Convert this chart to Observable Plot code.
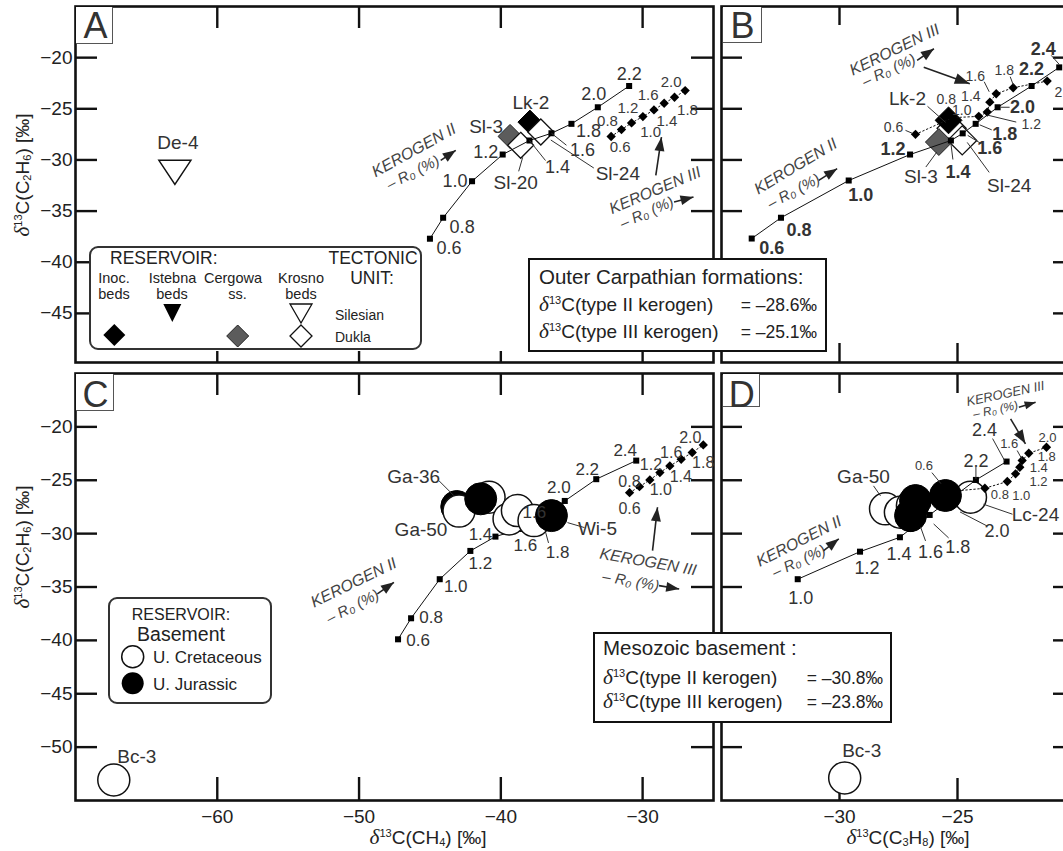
<!DOCTYPE html>
<html>
<head>
<meta charset="utf-8">
<script src="https://cdn.jsdelivr.net/npm/d3@7"></script>
<script src="https://cdn.jsdelivr.net/npm/@observablehq/plot@0.6"></script>
<style>
  html, body { margin:0; padding:0; background:#fff; }
  body { width:1063px; height:851px; overflow:hidden; }
  #wrap { position:relative; width:1063px; height:851px; overflow:hidden; font-family:"Liberation Sans", Arial, Helvetica, sans-serif; color:#222; }
  .abs { position:absolute; white-space:nowrap; line-height:1; }
  .sup { font-size:0.58em; position:relative; top:-0.62em; }
  .sub { font-size:0.58em; position:relative; top:0.22em; }
  .dl { font-family:"Liberation Serif","DejaVu Serif",serif; font-style:italic; font-size:1.12em; line-height:1; }
</style>
</head>
<body>
<div id="wrap"></div>
<script>
const FONT = '"Liberation Sans", Arial, Helvetica, sans-serif';

// ---------------- DATA ----------------
const xDomainCH4 = [-70, -25];
const xDomainC3H8 = [-35, -20];
const yDomainTop = [-49.8, -15];
const yDomainBottom = [-55, -15];
const xTicksCH4 = [-60, -50, -40, -30];
const xTicksC3H8 = [-30, -25];
const yTicksTop = [-20, -25, -30, -35, -40, -45];
const yTicksBottom = [-20, -25, -30, -35, -40, -45, -50];

// Panel A : d13C(CH4) vs d13C(C2H6), Outer Carpathian model curves
const roA2 = [0.6, 0.8, 1.0, 1.2, 1.4, 1.6, 1.8, 2.0, 2.2];
const ch4A2 = [-45.0, -44.07, -42.03, -39.87, -37.98, -36.43, -35.02, -33.16, -30.95];
const c2h6A2 = [-37.7, -35.65, -32.08, -29.47, -28.1, -27.39, -26.47, -24.85, -22.77];
const roA3 = [0.6, 0.8, 1.0, 1.2, 1.4, 1.6, 1.8, 2.0];
const ch4A3 = [-32.22, -31.49, -30.78, -29.98, -29.2, -28.48, -27.75, -27.0];
const c2h6A3 = [-27.71, -27.03, -26.38, -25.76, -25.11, -24.46, -23.87, -23.22];

// Panel B : d13C(C3H8) vs d13C(C2H6)
const roB2 = [0.6, 0.8, 1.0, 1.2, 1.4, 1.6, 1.8, 2.0, 2.2, 2.4];
const c3h8B2 = [-33.72, -32.48, -29.61, -27.01, -25.28, -24.78, -24.23, -23.3, -21.86, -20.69];
const c2h6B2 = [-37.68, -35.65, -32.01, -29.47, -28.1, -27.4, -26.47, -24.85, -22.77, -20.95];
const roB3 = [0.6, 0.8, 1.0, 1.2, 1.4, 1.6, 1.8, 2.0];
const c3h8B3 = [-26.78, -25.22, -24.1, -23.74, -23.63, -23.36, -22.64, -21.2];
const c2h6B3 = [-27.5, -25.87, -25.74, -25.32, -24.35, -23.53, -22.94, -22.29];

// Panel C : d13C(CH4) vs d13C(C2H6), Mesozoic basement model curves
const roC2 = [0.6, 0.8, 1.0, 1.2, 1.4, 1.6, 1.8, 2.0, 2.2, 2.4];
const ch4C2 = [-47.25, -46.33, -44.31, -42.15, -40.38, -38.62, -37.06, -35.49, -33.27, -30.45];
const c2h6C2 = [-39.9, -37.93, -34.27, -31.62, -30.28, -29.56, -28.25, -26.94, -24.9, -23.16];
const roC3 = [0.6, 0.8, 1.0, 1.2, 1.4, 1.6, 1.8, 2.0];
const ch4C3 = [-30.92, -30.22, -29.49, -28.78, -28.08, -27.28, -26.5, -25.72];
const c2h6C3 = [-26.16, -25.6, -24.97, -24.28, -23.66, -23.03, -22.4, -21.69];

// Panel D : d13C(C3H8) vs d13C(C2H6)
const roD2 = [1.0, 1.2, 1.4, 1.6, 1.8, 2.0, 2.2, 2.4];
const c3h8D2 = [-31.77, -29.13, -27.44, -26.99, -26.18, -25.4, -24.22, -22.92];
const c2h6D2 = [-34.27, -31.69, -30.34, -29.56, -28.25, -26.94, -24.97, -23.25];
const roD3 = [0.6, 0.8, 1.0, 1.2, 1.4, 1.6, 1.8, 2.0];
const c3h8D3 = [-25.83, -23.84, -22.89, -22.54, -22.36, -22.26, -21.98, -21.23];
const c2h6D3 = [-26.16, -25.75, -25.12, -24.4, -23.78, -23.15, -22.47, -21.91];

// Samples
const sampA_name = ["De-4", "Lk-2", "Sl-3", "Sl-24", "Sl-20"];
const sampA_type = ["krosnoS", "inoc", "cergowa", "krosnoD", "krosnoD"];
const sampA_ch4 = [-62.99, -37.95, -39.35, -37.18, -38.6];
const sampA_c2h6 = [-30.82, -26.3, -27.7, -27.27, -28.57];

const sampB_name = ["Sl-20", "Sl-24", "Lk-2", "Sl-3"];
const sampB_type = ["krosnoD", "krosnoD", "inoc", "cergowa"];
const sampB_c3h8 = [-25.25, -24.8, -25.38, -25.79];
const sampB_c2h6 = [-26.91, -28.09, -26.13, -28.25];

const sampC_name = ["Ga-36", "Ga-50", "", "", "", "", "", "Wi-5", "Bc-3"];
const sampC_type = ["jur", "cret", "cret", "jur", "cret", "cret", "cret", "jur", "cret"];
const sampC_ch4 = [-43.11, -42.95, -40.83, -41.42, -39.42, -38.83, -37.66, -36.43, -67.3];
const sampC_c2h6 = [-27.46, -27.89, -26.59, -26.74, -28.62, -27.84, -28.78, -28.31, -53.08];

const sampD_name = ["Ga-50", "", "", "Lc-24", "", "", "", "Bc-3"];
const sampD_type = ["cret", "cret", "cret", "cret", "jur", "jur", "jur", "cret"];
const sampD_c3h8 = [-28.05, -27.42, -26.91, -24.45, -26.78, -26.99, -25.51, -29.78];
const sampD_c2h6 = [-27.68, -28.0, -27.37, -26.59, -26.9, -28.31, -26.43, -52.89];

// ---------------- LAYOUT (label offsets in px, leaders [index, ax, ay, bx, by]) ----------------
const LAYOUT = {
  A: {f2: 18, f3: 15,
      lab2: [[19,10],[19,9],[-17,0],[-17,-2],[28,27],[31,17],[17,7],[-4,-13],[0,-12]],
      lead2: [[4,0,0,16,20],[5,0,0,15,12]],
      lab3: [[9,11],[-14,-8],[19,9],[-15,-8],[13,11],[-16,-8],[13,13],[-14,-8]],
      lead3: [],
      sampLab: [[0,3,-25],[1,1,-19],[2,-24,-10],[3,77,42],[4,-5,38]],
      sampLead: [[3,10,8,53,36],[4,2,12,-2,26]]},
  B: {f2: 18, w2: "bold", f3: 14,
      lab2: [[20,10],[18,12],[12,15],[-17,-5],[7,32],[27,15],[29,10],[25,0],[0,-17],[-16,-18]],
      lead2: [[4,0,3,2,19],[5,5,2,18,10],[6,4,1,16,6],[7,3,0,12,0],[9,-8,-12,0,-3]],
      lab3: [[-22,-7],[-6,-18],[-17,-6],[44,12],[-19,-6],[-21,-17],[-9,-17],[17,11]],
      lead3: [[0,-10,-4,-3,-1],[3,0,3,29,10],[5,-12,-12,-7,-2],[6,-3,-11,0,-3]],
      sampLab: [[1,47,45],[2,-41,-21],[3,-18,35]],
      sampLead: [[1,5,2,27,32],[2,-21,-14,-3,2],[3,-13,25,-2,10]]},
  C: {f2: 17, f3: 16,
      lab2: [[20,1],[20,-1],[16,7],[10,13],[-15,-2],[5,17],[15,38],[-6,-13],[-9,-10],[-11,-10]],
      extra: [[5, "1.6", 14, -16]],
      lead2: [[6,3,17,6,28]],
      lab3: [[0,16],[-10,-5],[11,10],[-9,-8],[11,11],[-10,-6],[11,10],[-13,-7]],
      lead3: [],
      sampLab: [[0,-43,-30],[1,-38,19],[7,46,13],[8,23,-23]],
      sampLead: [[0,-18,-26,-3,-11],[7,16,7,33,12]]},
  D: {f2: 18, f3: 13,
      lab2: [[3,19],[7,17],[-1,17],[20,23],[28,32],[49,30],[0,-19],[-22,-31]],
      lead2: [[3,10,-2,15,12],[4,4,9,19,23],[5,12,11,39,25],[6,0,-13,0,-1],[7,-14,-23,-2,-1]],
      lab3: [[-14,-27],[15,7],[14,14],[23,8],[19,1],[-13,-17],[18,4],[1,-9]],
      lead3: [[0,-6,-20,3,-9],[5,-5,-10,0,-1]],
      sampLab: [[0,-22,-32],[3,65,18],[7,17,-27]],
      sampLead: [[0,-12,-23,-5,-13],[3,13,7,42,17]]}
};

// Kerogen annotations (data units)
const NOTES = {
  A: [{t:"KEROGEN II", x:-46.13, y:-29.06, r:-29, s:16}, {t:"– R₀ (%)", x:-46.2, y:-31.24, r:-27, s:15},
      {t:"KEROGEN III", x:-29.12, y:-32.97, r:-23, s:16}, {t:"– R₀ (%)", x:-29.7, y:-35.15, r:-24, s:15}],
  B: [{t:"KEROGEN III", x:-27.67, y:-19.23, r:-26, s:16}, {t:"– R₀ (%)", x:-27.91, y:-21.25, r:-25, s:15},
      {t:"KEROGEN II", x:-31.86, y:-30.62, r:-31, s:16}, {t:"– R₀ (%)", x:-31.94, y:-33.07, r:-28, s:15}],
  C: [{t:"KEROGEN II", x:-50.38, y:-34.59, r:-26, s:16}, {t:"– R₀ (%)", x:-50.45, y:-36.84, r:-27, s:15},
      {t:"KEROGEN III", x:-29.61, y:-32.65, r:10, s:16}, {t:"– R₀ (%)", x:-30.83, y:-34.47, r:10, s:15}],
  D: [{t:"KEROGEN III", x:-22.97, y:-16.9, r:-12, s:13}, {t:"– R₀ (%)", x:-23.39, y:-18.4, r:-12, s:12},
      {t:"KEROGEN II", x:-31.72, y:-30.72, r:-27, s:16}, {t:"– R₀ (%)", x:-31.72, y:-32.59, r:-25, s:15}]
};
const ARROWS = {
  A: [[-44.24,-30.04,-43.18,-29.06,13,10], [-27.78,-34.11,-26.41,-33.62,13,10], [-29.07,-31.5,-28.67,-27.76,14,10]],
  B: [[-26.71,-20.27,-26.0,-19.13,13,10], [-26.43,-20.93,-24.48,-22.55,15,11], [-30.88,-31.99,-30.1,-30.85,13,10]],
  C: [[-48.71,-35.65,-47.54,-34.56,13,10], [-28.84,-34.87,-27.42,-35.18,13,10], [-29.3,-31.59,-28.95,-27.53,14,10]],
  D: [[-22.4,-18.16,-21.69,-17.69,11,8], [-22.75,-19.25,-22.12,-21.59,14,10], [-30.67,-31.59,-30.03,-30.49,13,10]]
};

// ---------------- HELPERS ----------------
const rows = (ro, xs, ys) => ro.map((r, i) => ({ro: r, x: xs[i], y: ys[i]}));
const samples = (n, t, xs, ys) => n.map((name, i) => ({name, type: t[i], x: xs[i], y: ys[i]}));
const triDown = {draw(ctx, size) { const r = Math.sqrt(size / Math.PI); ctx.moveTo(-r, -0.5*r); ctx.lineTo(r, -0.5*r); ctx.lineTo(0, r); ctx.closePath(); }};
function headSymbol(ang, L, W) {
  const c = Math.cos(ang), s = Math.sin(ang);
  const pts = [[0,0],[-L,-W/2],[-L,W/2]].map(([a,b]) => [a*c - b*s, a*s + b*c]);
  return {draw(ctx) { ctx.moveTo(pts[0][0], pts[0][1]); ctx.lineTo(pts[1][0], pts[1][1]); ctx.lineTo(pts[2][0], pts[2][1]); ctx.closePath(); }};
}
const SAMPLE_STYLE = {
  inoc:    {symbol: "diamond2", r: 10.8, fill: "#000", stroke: "#000", strokeWidth: 1},
  cergowa: {symbol: "diamond2", r: 10.8, fill: "#5c5c5c", stroke: "#222", strokeWidth: 1},
  krosnoD: {symbol: "diamond2", r: 11.7, fill: "#fff", stroke: "#111", strokeWidth: 1.3},
  krosnoS: {symbol: triDown, r: 16, fill: "#fff", stroke: "#111", strokeWidth: 1.5},
  cret:    {symbol: "circle", r: 16, fill: "#fff", stroke: "#111", strokeWidth: 1.5},
  jur:     {symbol: "circle", r: 16, fill: "#000", stroke: "#000", strokeWidth: 1}
};

const wrap = document.getElementById("wrap");

function buildPanel(p) {
  const iw = p.W - p.ml - p.mr, ih = p.H - p.mt - p.mb;
  const kx = iw / (p.xd[1] - p.xd[0]);
  const ky = ih / (p.yd[1] - p.yd[0]);
  const at = (d, o) => ({x: d.x + o[0] / kx, y: d.y - o[1] / ky});
  const lay = p.lay;
  const marks = [];
  const ts = {stroke: "#111", strokeWidth: 2.4};
  marks.push(Plot.tickY(p.yTicks, {y: d => d, insetRight: iw - p.tl[0], ...ts}));
  marks.push(Plot.tickY(p.yTicks, {y: d => d, insetLeft: iw - p.tl[1], ...ts}));
  marks.push(Plot.tickX(p.xTicks, {x: d => d, insetBottom: ih - p.tl[2], ...ts}));
  marks.push(Plot.tickX(p.xTicks, {x: d => d, insetTop: ih - p.tl[3], ...ts}));
  marks.push(Plot.frame({stroke: "#111", strokeWidth: 2.6}));

  const addCurves = () => {
    marks.push(Plot.line(p.k2, {x: "x", y: "y", stroke: "#111", strokeWidth: 1}));
    marks.push(Plot.line(p.k3, {x: "x", y: "y", stroke: "#111", strokeWidth: 1, strokeDasharray: "1.5,2.5"}));
    marks.push(Plot.dot(p.k2, {x: "x", y: "y", symbol: "square", r: 3.4, fill: "#000"}));
    marks.push(Plot.dot(p.k3, {x: "x", y: "y", symbol: "diamond2", r: 4.2, fill: "#000"}));
  };
  const addSamples = (f) => p.samples.forEach(s => {
    if (f && !f(s)) return;
    const st = SAMPLE_STYLE[s.type];
    marks.push(Plot.dot([s], {x: "x", y: "y", symbol: st.symbol, r: st.r * p.sScale, fill: st.fill, stroke: st.stroke, strokeWidth: st.strokeWidth}));
  });
  if (p.order === "curvesFirst") { addCurves(); addSamples(); }
  else if (p.order === "split") { addSamples(s => s.type !== "jur"); addCurves(); addSamples(s => s.type === "jur"); }
  else { addSamples(); addCurves(); }

  const leads = [];
  const addLead = (d, l) => { const a = at(d, [l[1], l[2]]), b = at(d, [l[3], l[4]]); leads.push({x1: a.x, y1: a.y, x2: b.x, y2: b.y}); };
  lay.lead2.forEach(l => addLead(p.k2[l[0]], l));
  lay.lead3.forEach(l => addLead(p.k3[l[0]], l));
  lay.sampLead.forEach(l => addLead(p.samples[l[0]], l));
  marks.push(Plot.link(leads, {x1: "x1", y1: "y1", x2: "x2", y2: "y2", stroke: "#333", strokeWidth: 1}));

  const lab2 = p.k2.map((d, i) => ({...at(d, lay.lab2[i]), t: d.ro.toFixed(1)}));
  (lay.extra || []).forEach(e => lab2.push({...at(p.k2[e[0]], [e[2], e[3]]), t: e[1]}));
  marks.push(Plot.text(lab2, {x: "x", y: "y", text: "t", fontSize: lay.f2, fontWeight: lay.w2 || "normal", fill: "#333"}));
  const lab3 = p.k3.map((d, i) => ({...at(d, lay.lab3[i]), t: d.ro.toFixed(1)}));
  marks.push(Plot.text(lab3, {x: "x", y: "y", text: "t", fontSize: lay.f3, fill: "#3a3a3a"}));
  const labS = lay.sampLab.map(l => ({...at(p.samples[l[0]], [l[1], l[2]]), t: p.samples[l[0]].name}));
  marks.push(Plot.text(labS, {x: "x", y: "y", text: "t", fontSize: 19, fill: "#333"}));

  p.notes.forEach(n => marks.push(Plot.text([n], {x: "x", y: "y", text: "t", rotate: n.r, fontSize: n.s, fontStyle: "italic", fill: "#444"})));
  p.arrows.forEach(a => {
    const ang = Math.atan2(-(a[3] - a[1]) * ky, (a[2] - a[0]) * kx);
    marks.push(Plot.link([a], {x1: d => d[0], y1: d => d[1], x2: d => d[2], y2: d => d[3], stroke: "#222", strokeWidth: 1.6}));
    marks.push(Plot.dot([a], {x: d => d[2], y: d => d[3], symbol: headSymbol(ang, a[4], a[5]), r: 5, fill: "#222"}));
  });

  const svg = Plot.plot({
    width: p.W, height: p.H, marginLeft: p.ml, marginRight: p.mr, marginTop: p.mt, marginBottom: p.mb,
    x: {domain: p.xd, axis: p.showX ? "bottom" : null, ticks: p.xTicks, tickSize: 0, tickPadding: 9, label: null},
    y: {domain: p.yd, axis: p.showY ? "left" : null, ticks: p.yTicks, tickSize: 0, tickPadding: 3, label: null},
    style: {fontFamily: FONT, fontSize: "19px", color: "#222", background: "transparent", maxWidth: "none", overflow: "visible"},
    marks
  });
  const holder = document.createElement("div");
  holder.style.cssText = `position:absolute;left:${p.left}px;top:${p.top}px;width:${p.W}px;height:${p.H}px;`;
  holder.appendChild(svg);
  wrap.appendChild(holder);
}

const PANELS = [
  {left: 0, top: 0, W: 716, H: 366, ml: 75, mr: 3, mt: 6, mb: 4, xd: xDomainCH4, yd: yDomainTop,
   xTicks: xTicksCH4, yTicks: yTicksTop, tl: [22, 22, 22, 11], showX: false, showY: true,
   k2: rows(roA2, ch4A2, c2h6A2), k3: rows(roA3, ch4A3, c2h6A3),
   samples: samples(sampA_name, sampA_type, sampA_ch4, sampA_c2h6), order: "samplesFirst", sScale: 1,
   lay: LAYOUT.A, notes: NOTES.A, arrows: ARROWS.A},
  {left: 718, top: 0, W: 361, H: 366, ml: 3, mr: 4, mt: 6, mb: 4, xd: xDomainC3H8, yd: yDomainTop,
   xTicks: xTicksC3H8, yTicks: yTicksTop, tl: [21, 22, 19, 19], showX: false, showY: false,
   k2: rows(roB2, c3h8B2, c2h6B2), k3: rows(roB3, c3h8B3, c2h6B3),
   samples: samples(sampB_name, sampB_type, sampB_c3h8, sampB_c2h6), order: "samplesFirst", sScale: 1.12,
   lay: LAYOUT.B, notes: NOTES.B, arrows: ARROWS.B},
  {left: 0, top: 367, W: 716, H: 484, ml: 75, mr: 3, mt: 6, mb: 51, xd: xDomainCH4, yd: yDomainBottom,
   xTicks: xTicksCH4, yTicks: yTicksBottom, tl: [22, 22, 22, 23], showX: true, showY: true,
   k2: rows(roC2, ch4C2, c2h6C2), k3: rows(roC3, ch4C3, c2h6C3),
   samples: samples(sampC_name, sampC_type, sampC_ch4, sampC_c2h6), order: "curvesFirst", sScale: 1,
   lay: LAYOUT.C, notes: NOTES.C, arrows: ARROWS.C},
  {left: 718, top: 367, W: 361, H: 484, ml: 3, mr: 4, mt: 6, mb: 51, xd: xDomainC3H8, yd: yDomainBottom,
   xTicks: xTicksC3H8, yTicks: yTicksBottom, tl: [21, 22, 20, 22], showX: true, showY: false,
   k2: rows(roD2, c3h8D2, c2h6D2), k3: rows(roD3, c3h8D3, c2h6D3),
   samples: samples(sampD_name, sampD_type, sampD_c3h8, sampD_c2h6), order: "split", sScale: 1,
   lay: LAYOUT.D, notes: NOTES.D, arrows: ARROWS.D}
];
PANELS.forEach(buildPanel);

// ---------------- HTML OVERLAYS (titles, boxes, legends) ----------------
function place(html, x, y, size, anchor, extra) {
  const e = document.createElement("div");
  e.className = "abs";
  const tx = anchor === "middle" ? "-50%" : anchor === "end" ? "-100%" : "0";
  e.style.cssText = `left:${x}px;top:${y}px;font-size:${size}px;transform:translate(${tx},-50%);${extra || ""}`;
  e.innerHTML = html;
  wrap.appendChild(e);
  return e;
}
function box(x, y, w, h, css) {
  const e = document.createElement("div");
  e.style.cssText = `position:absolute;left:${x}px;top:${y}px;width:${w}px;height:${h}px;box-sizing:border-box;background:#fff;${css}`;
  wrap.appendChild(e);
  return e;
}
const D13 = `<span class="dl">δ</span><span class="sup">13</span>`;

// panel letters
[["A", 76, 7, 37, 37, 95.5, 26], ["B", 723, 7, 39, 36, 742.5, 25.5], ["C", 76, 374, 38, 37, 95.5, 395], ["D", 723, 374, 37, 33, 741.7, 394.5]]
  .forEach(([t, x, y, w, h, cx, cy]) => {
    box(x, y, w, h, "border-right:1.5px solid #555;border-bottom:1.5px solid #555;");
    place(t, cx, cy, 36, "middle", "color:#333;");
  });

// axis titles
place(`${D13}C(C<span class="sub">2</span>H<span class="sub">6</span>) [‰]`, 23, 175, 19, "middle", "transform:translate(-50%,-50%) rotate(-90deg);");
place(`${D13}C(C<span class="sub">2</span>H<span class="sub">6</span>) [‰]`, 23, 547, 19, "middle", "transform:translate(-50%,-50%) rotate(-90deg);");
place(`${D13}C(CH<span class="sub">4</span>) [‰]`, 428, 838, 19, "middle");
place(`${D13}C(C<span class="sub">3</span>H<span class="sub">8</span>) [‰]`, 908, 838, 19, "middle");

// info boxes
function infoBox(x, y, w, h, lines, lx, ly, lw) {
  box(x, y, w, h, "border:2px solid #111;");
  place(lines[0], lx, ly[0], 20.5, "start");
  [1, 2].forEach(i => place(`<div style="display:flex;justify-content:space-between;align-items:baseline;width:${lw}px"><span>${D13}C(type ${lines[i][0]} kerogen)</span><span style="font-size:17.5px">= ${lines[i][1]}</span></div>`, lx, ly[i], 19, "start"));
}
infoBox(528, 258, 299, 94, ["Outer Carpathian formations:", ["II", "–28.6‰"], ["III", "–25.1‰"]], 539, [277, 305, 332], 278);
infoBox(593, 632, 299, 91, ["Mesozoic basement :", ["II", "–30.8‰"], ["III", "–23.8‰"]], 603, [648, 678, 702], 280);

// legend A
box(89, 246, 333, 104, "border:2px solid #333;border-radius:9px;");
place("RESERVOIR:", 110, 259, 17.5, "start");
place("TECTONIC", 373, 259, 17.5, "middle");
place("UNIT:", 372, 279, 17.5, "middle");
[["Inoc.", 114, 278], ["beds", 114, 294], ["Istebna", 172.5, 278], ["beds", 172, 294], ["Cergowa", 233, 278], ["ss.", 237.5, 294], ["Krosno", 301, 278], ["beds", 301, 294]]
  .forEach(([t, x, y]) => place(t, x, y, 14.5, "middle"));
place("Silesian", 335, 315, 14, "start");
place("Dukla", 335, 337, 14, "start");

// legend C
box(108, 597, 164, 107, "border:2px solid #333;border-radius:9px;");
place("RESERVOIR:", 181, 615, 16, "middle");
place("Basement", 181, 635, 19.5, "middle");
place("U. Cretaceous", 153, 657, 17, "start");
place("U. Jurassic", 153, 684, 17, "start");

// legend symbols
const ov = document.createElementNS("http://www.w3.org/2000/svg", "svg");
ov.setAttribute("width", 1063); ov.setAttribute("height", 851);
ov.style.cssText = "position:absolute;left:0;top:0;pointer-events:none;";
const dia = (cx, cy, h) => `${cx},${cy - h} ${cx + h},${cy} ${cx},${cy + h} ${cx - h},${cy}`;
ov.innerHTML = `
  <polygon points="${dia(114.3, 335, 11)}" fill="#000"/>
  <polygon points="163.3,304 181.3,304 172.3,322" fill="#000"/>
  <polygon points="${dia(237.7, 336, 11)}" fill="#5c5c5c" stroke="#222" stroke-width="1"/>
  <polygon points="290,304 312,304 301,323" fill="#fff" stroke="#111" stroke-width="1.3"/>
  <polygon points="${dia(301, 336, 11)}" fill="#fff" stroke="#111" stroke-width="1.3"/>
  <circle cx="132.7" cy="656.7" r="11" fill="#fff" stroke="#111" stroke-width="1.5"/>
  <circle cx="132.7" cy="683.3" r="11" fill="#000"/>`;
wrap.appendChild(ov);
</script>
</body>
</html>
